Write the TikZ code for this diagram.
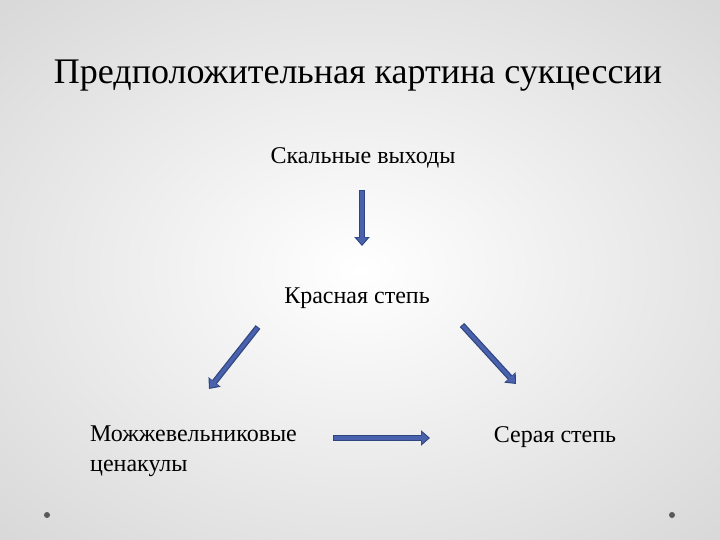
\documentclass[tikz,border=0pt]{standalone}
\usepackage{fontspec}
\setmainfont{Liberation Serif}
\usetikzlibrary{arrows.meta}
\definecolor{arr}{HTML}{4A62AE}
\definecolor{arrd}{HTML}{2F4580}
\tikzset{
  blk/.style={draw=arrd,line width=6pt,-{Triangle[length=9pt,width=15pt]},shorten >=0pt},
  blki/.style={draw=arr,line width=3.5pt,-{Triangle[length=7pt,width=11pt]}},
  lbl/.style={font=\fontsize{24}{30}\selectfont,inner sep=0pt},
  dot/.style={circle,fill=black!65,inner sep=0pt,minimum size=6pt}
}
\begin{document}
\begin{tikzpicture}[x=1pt,y=-1pt]
\useasboundingbox (0,0) rectangle (720,540);
\shade[inner color=white,outer color=black!15] (-150,-100) rectangle (870,640);
\path[use as bounding box] (0,0) rectangle (720,540);
\node[font=\fontsize{36}{42}\selectfont,inner sep=0pt] (title) at (358,76) {Предположительная картина сукцессии};
\node[lbl] (skal) at (363,158) {Скальные выходы};
\node[lbl] (kras) at (357,298) {Красная степь};
\node[lbl,align=left,anchor=north west] (mozh) at (90,426) {Можжевельниковые\\ценакулы};
\node[lbl] (ser) at (555,437) {Серая степь};
\coordinate (a1) at (362,190); \coordinate (a2) at (362,246);
\coordinate (b1) at (258,327); \coordinate (b2) at (209,389);
\coordinate (c1) at (462,325); \coordinate (c2) at (516,384);
\coordinate (d1) at (333,438); \coordinate (d2) at (430,438);
\foreach \s/\e in {a1/a2,b1/b2,c1/c2,d1/d2}{
  \draw[blk] (\s) -- (\e);
  \draw[blki,shorten <=1pt,shorten >=1.5pt] (\s) -- (\e);
}
\node[dot] (p1) at (47,515) {};
\node[dot] (p2) at (672,515) {};
\end{tikzpicture}
\end{document}
